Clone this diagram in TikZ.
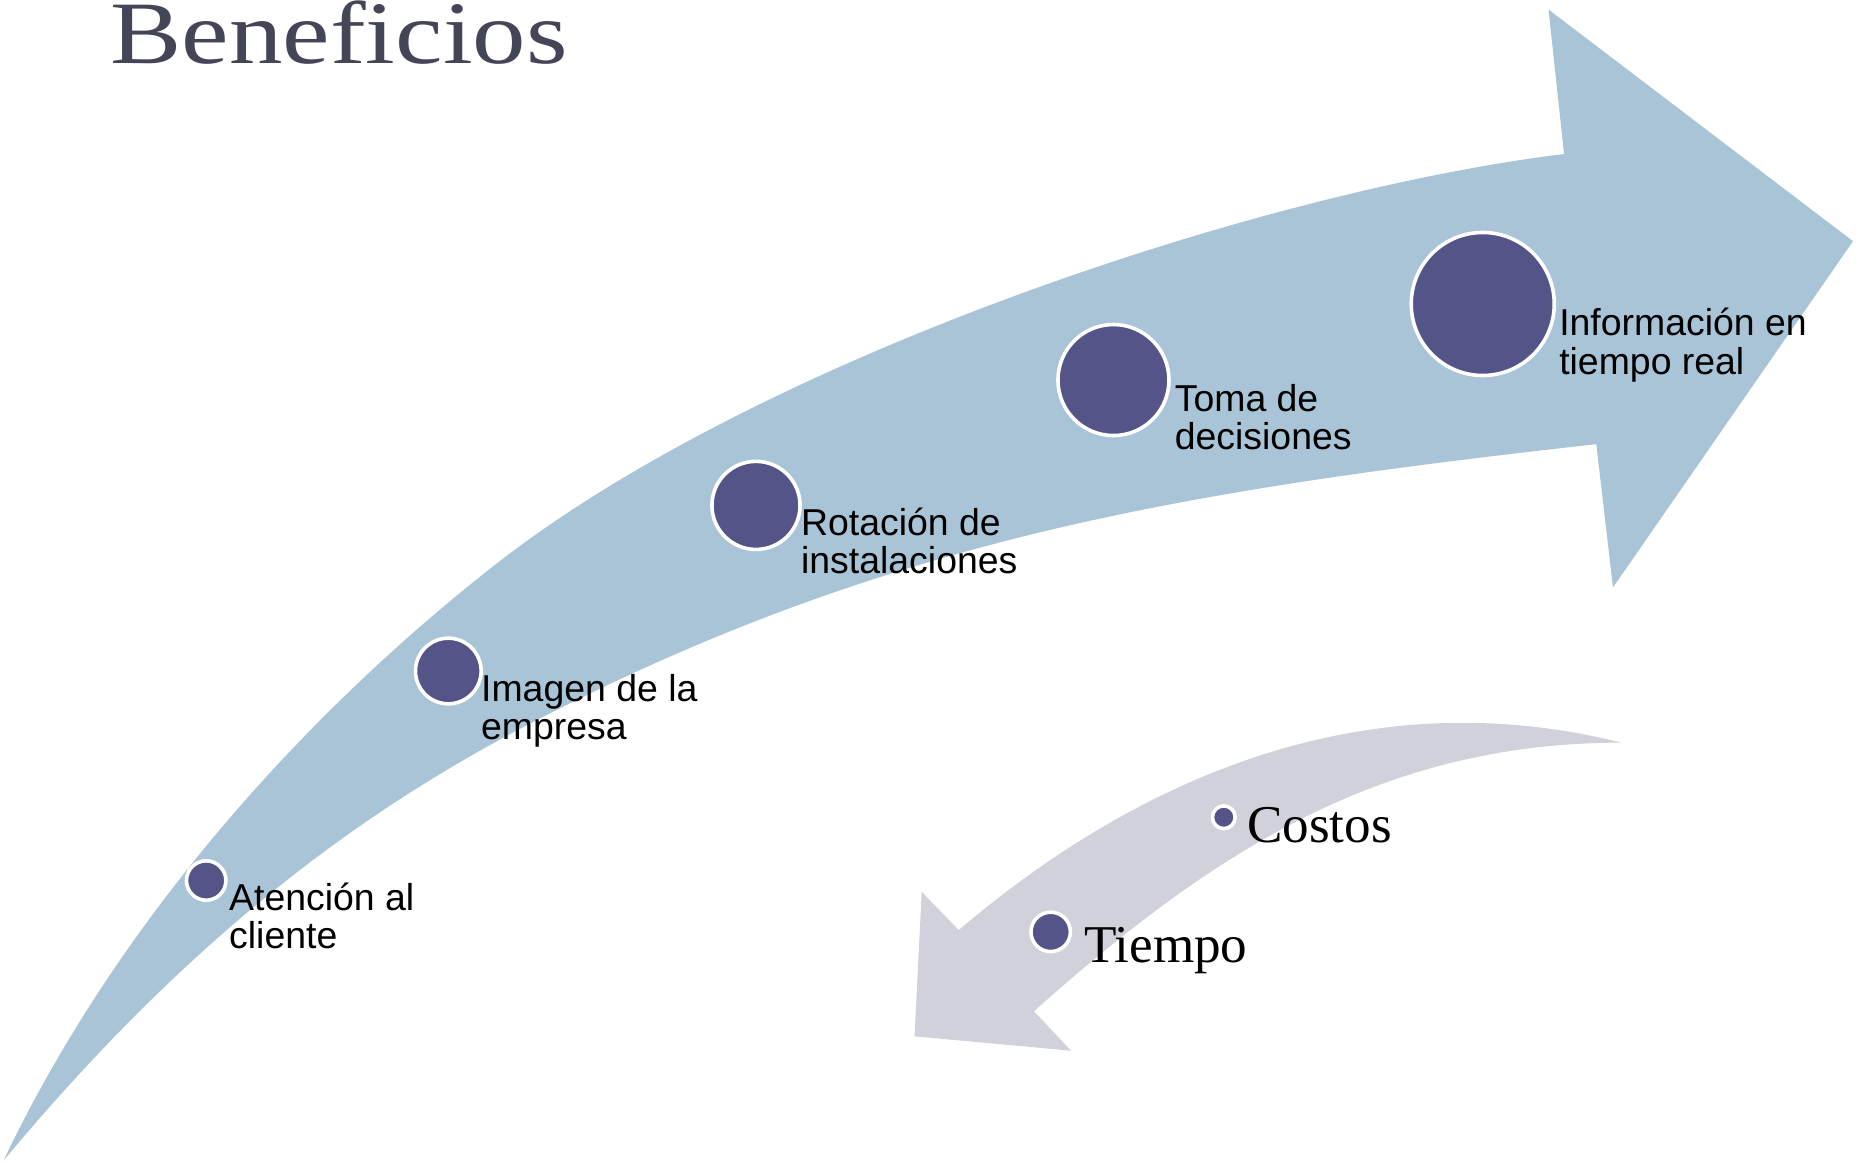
\documentclass[tikz,border=0pt]{standalone}
\usepackage{fontspec}
\setmainfont{Liberation Serif}
\newfontfamily\arialf{Liberation Sans}
\newfontfamily\timesf{Liberation Serif}
\definecolor{bandblue}{RGB}{169,196,215}
\definecolor{bandgrey}{RGB}{208,209,219}
\definecolor{beadc}{RGB}{84,84,137}
\definecolor{titlec}{RGB}{68,70,88}
\tikzset{
  bead/.style={circle, fill=beadc, draw=white, line width=1.8pt, inner sep=0pt, outer sep=0pt, minimum size=#1},
  lbl/.style={anchor=base west, inner sep=0pt, outer sep=0pt, text=black, font=\arialf\fontsize{18.8}{19.2}\selectfont},
  serlbl/.style={anchor=base west, inner sep=0pt, outer sep=0pt, text=black, font=\timesf\fontsize{26.7}{30}\selectfont}
}
\begin{document}
\begin{tikzpicture}[x=0.6pt,y=-0.6pt]
\useasboundingbox (0,0) rectangle (1560.4,971.6);
\clip (0,0) rectangle (1560.4,971.6);
\fill[white] (0,0) rectangle (1560.4,971.6);
% big arrow
\fill[bandblue] (3,972)
  .. controls (103,762) and (266,589) .. (416,472)
  .. controls (636,300.4) and (1055,160.2) .. (1310,129)
  -- (1297,8) -- (1552,202) -- (1351,492) -- (1337,372)
  .. controls (993,410.5) and (744,450.6) .. (444,606)
  .. controls (294,683.7) and (153,792) .. (3,972) -- cycle;
% grey arrow
\fill[bandgrey] (1358,622)
  .. controls (1143,568.25) and (953,651.5) .. (803,779)
  -- (772,747) -- (766,868) -- (897,880) -- (866,847)
  .. controls (1016,713) and (1158,622) .. (1358,622) -- cycle;
% title
\node[anchor=base west, inner sep=0pt, text=titlec, font=\timesf\fontsize{44.76}{50}\selectfont, xscale=1.2] (title) at (92.3,52.8) {Beneficios};
% beads
\node[bead=19.8pt] (c1) at (172.7,737.5) {};
\node[bead=33pt] (c2) at (375.5,562) {};
\node[bead=44.28pt] (c3) at (633.2,423.3) {};
\node[bead=55.8pt] (c4) at (932.6,318.3) {};
\node[bead=71.88pt] (c5) at (1241.9,254.6) {};
\node[bead=11.4pt] (c6) at (1025,684.5) {};
\node[bead=19.8pt] (c7) at (880,780.5) {};
% labels
\node[lbl] (t1) at (192,762.3) {\begin{tabular}[t]{@{}l@{}}Atención al\\cliente\end{tabular}};
\node[lbl] (t2) at (403,587.7) {\begin{tabular}[t]{@{}l@{}}Imagen de la\\empresa\end{tabular}};
\node[lbl] (t3) at (671,448.1) {\begin{tabular}[t]{@{}l@{}}Rotación de\\instalaciones\end{tabular}};
\node[lbl] (t4) at (984,344.3) {\begin{tabular}[t]{@{}l@{}}Toma de\\decisiones\end{tabular}};
\node[lbl] (t5) at (1306,281) {\begin{tabular}[t]{@{}l@{}}Información en\\tiempo real\end{tabular}};
\node[serlbl] (t6) at (1044.6,705.3) {Costos};
\node[serlbl] (t7) at (908,806) {Tiempo};
\end{tikzpicture}
\end{document}
